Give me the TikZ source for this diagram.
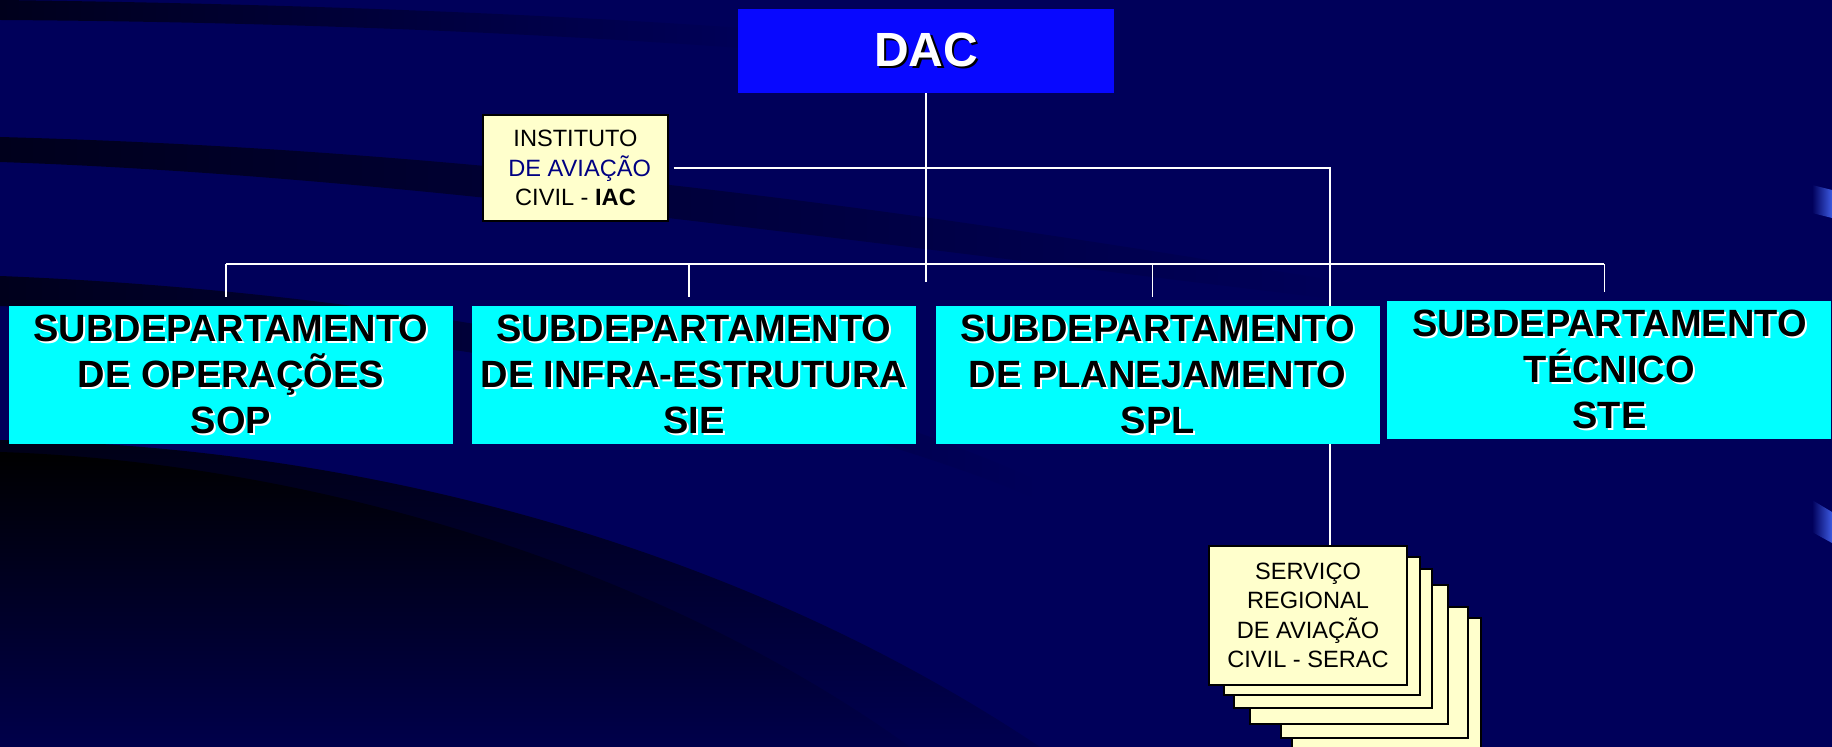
\documentclass[tikz,border=0pt]{standalone}
\usepackage{fontspec}
\setmainfont{Liberation Sans}
\usetikzlibrary{positioning}
\definecolor{navy}{RGB}{0,0,90}
\definecolor{swoosh}{RGB}{0,0,28}
\definecolor{dacblue}{RGB}{8,8,255}
\definecolor{subcyan}{RGB}{0,255,255}
\definecolor{notecream}{RGB}{255,255,204}
\definecolor{textnavy}{RGB}{0,0,130}
\definecolor{edgeblue}{RGB}{60,90,225}
\newcommand{\wsh}[1]{\leavevmode\rlap{\kern1pt\raisebox{-1pt}{\color{white}#1}}#1}
\newcommand{\bsh}[1]{\leavevmode\rlap{\kern1.2pt\raisebox{-1.2pt}{\color{black}#1}}#1}
\pgfdeclarelayer{back}
\pgfdeclarelayer{wires}
\pgfsetlayers{back,wires,main}
\tikzset{
  dacbox/.style={fill=dacblue,text=white,inner sep=0pt,minimum width=188pt,minimum height=42pt,
    font=\fontsize{24}{28}\selectfont\bfseries},
  subbox/.style={fill=subcyan,inner sep=0pt,minimum width=222pt,minimum height=69pt,align=center,
    font=\fontsize{19}{23}\selectfont\bfseries},
  notebox/.style={fill=notecream,draw=black,line width=0.6pt,inner sep=0pt,align=center,
    font=\fontsize{11.8}{14.7}\selectfont},
  stackbox/.style={fill=notecream,draw=black},
  wire/.style={draw=white,line width=0.8pt}
}
\begin{document}
\begin{tikzpicture}[x=0.5pt,y=-0.5pt]
\useasboundingbox (0,0) rectangle (1832,747);

\begin{pgfonlayer}{back}
\fill[navy] (0,0) rectangle (1832,747);
\shade[left color=swoosh,right color=navy] (0,0) .. controls (300,4) and (550,14) .. (770,30)
  -- (770,50) .. controls (550,34) and (300,22) .. (0,20) -- cycle;
\shade[left color=swoosh,right color=navy] (0,137) .. controls (400,148) and (800,190) .. (1360,285)
  -- (1360,302) .. controls (800,236) and (400,176) .. (0,162) -- cycle;
\shade[left color=swoosh,right color=navy] (0,276) .. controls (400,292) and (800,370) .. (1040,482)
  -- (1040,500) .. controls (800,400) and (400,322) .. (0,306) -- cycle;
\shade[top color={rgb,255:red,0;green,0;blue,22},bottom color={rgb,255:red,0;green,0;blue,80}]
  (0,440) .. controls (300,444) and (700,520) .. (1040,747) -- (0,747) -- cycle;
\shade[top color=black,bottom color={rgb,255:red,0;green,0;blue,75}]
  (0,452) .. controls (300,462) and (650,560) .. (910,747) -- (0,747) -- cycle;
\shade[left color=navy,right color=edgeblue] (1812,185) -- (1832,190) -- (1832,218) -- (1812,213) -- cycle;
\shade[left color=navy,right color=edgeblue] (1812,500) -- (1832,512) -- (1832,543) -- (1812,532) -- cycle;
\end{pgfonlayer}

\node[dacbox] (dac) at (926,51) {\bsh{DAC}};
\node[notebox,minimum width=92.5pt,minimum height=53pt] (iac) at (575.5,168)
  {INSTITUTO\\\hspace*{0.35em}{\color{textnavy}DE AVIAÇÃO}\\CIVIL - \textbf{IAC}};

\node[subbox] (sop) at (231,375) {\wsh{SUBDEPARTAMENTO}\\\wsh{DE OPERAÇÕES}\\\wsh{SOP}};
\node[subbox,right=9pt of sop] (sie) {\wsh{SUBDEPARTAMENTO}\\\wsh{DE INFRA-ESTRUTURA}\\\wsh{SIE}};
\node[subbox,right=9.5pt of sie] (spl) {\wsh{SUBDEPARTAMENTO}\\\wsh{DE PLANEJAMENTO}\\\wsh{SPL}};
\node[subbox,right=3.5pt of spl,yshift=2.5pt] (ste) {\wsh{SUBDEPARTAMENTO}\\\wsh{TÉCNICO}\\\wsh{STE}};

\foreach \l/\t/\r/\b/\w in {1292/618/1481/762/1.3pt,1281/607/1468/738/1.3pt,1250/585/1448/724/0.7pt,
  1234/569/1432/708/0.7pt,1224/557/1420/695/0.7pt}
  \draw[stackbox,line width=\w] (\l,\t) rectangle (\r,\b);
\node[notebox,minimum width=99pt,minimum height=69.5pt] (serac) at (1308,615.5)
  {SERVIÇO\\REGIONAL\\DE AVIAÇÃO\\CIVIL - SERAC};

\begin{pgfonlayer}{wires}
\coordinate (bus) at (0,264);
\coordinate (dactail) at (0,282);
\draw[wire] (dac.south) -- (dac.south |- dactail);
\draw[wire] ([xshift=-2.5pt]sop.north |- bus) -- ([xshift=-2.5pt]ste.north |- bus);
\foreach \n in {sop,sie,spl,ste}
  \draw[wire] ([xshift=-2.5pt]\n.north |- bus) -- ([xshift=-2.5pt,yshift=4.5pt]\n.north);
\draw[wire] ([xshift=2.5pt]iac.east) -| ([xshift=11pt]serac.north);
\end{pgfonlayer}
\end{tikzpicture}
\end{document}
